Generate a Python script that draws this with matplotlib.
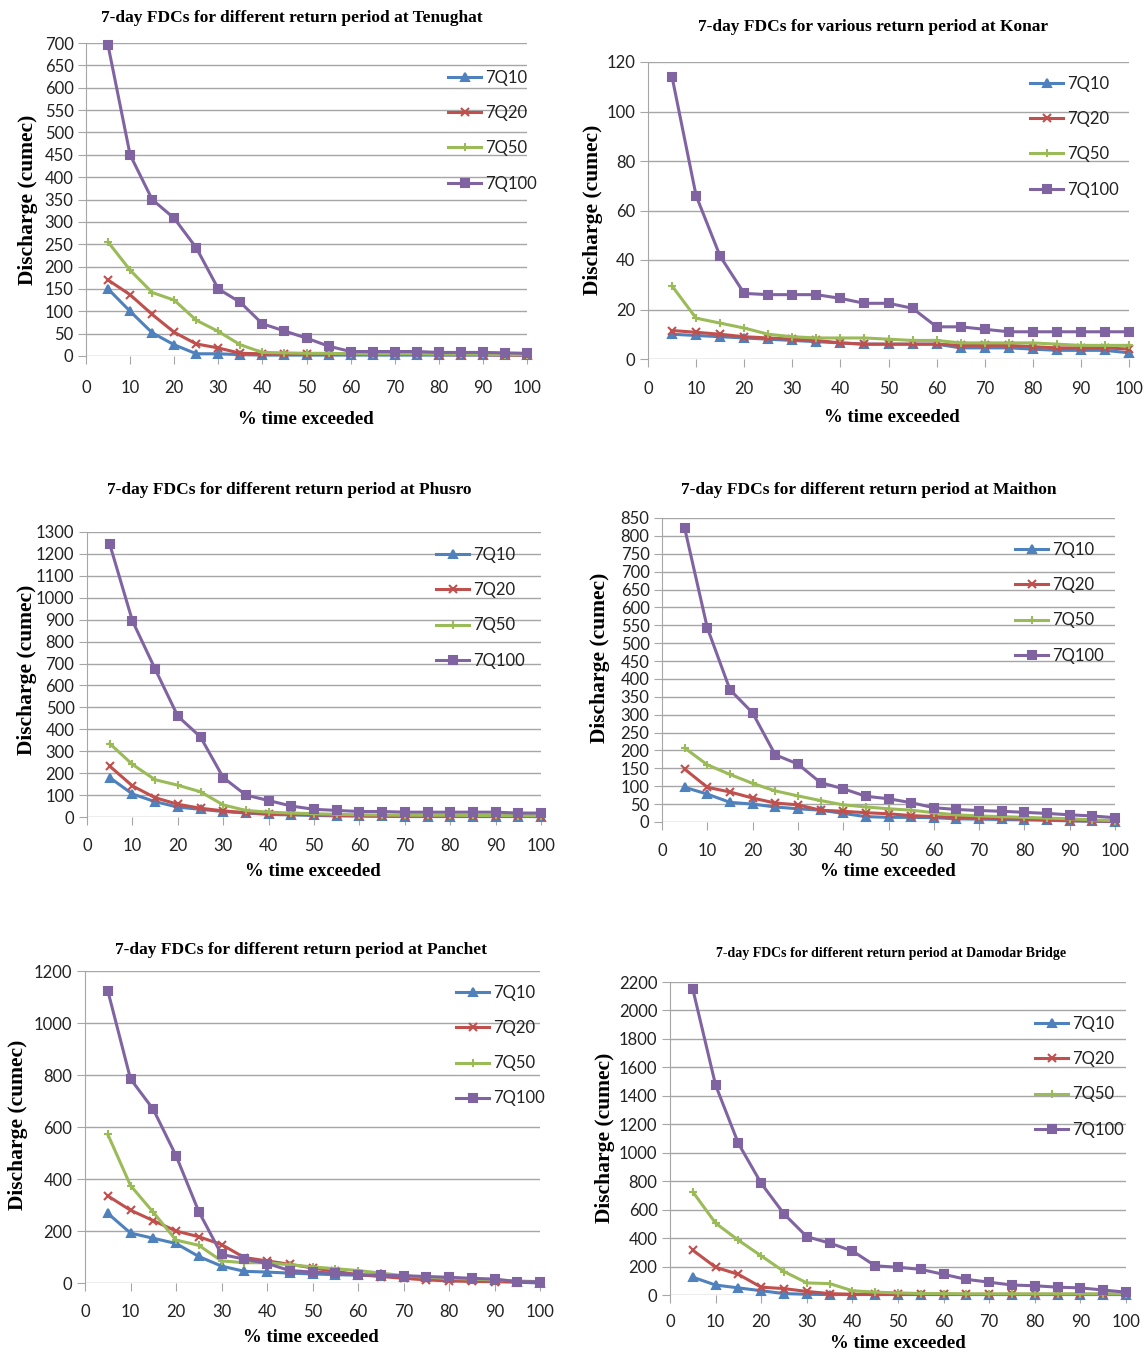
import matplotlib
matplotlib.use("Agg")
import matplotlib.pyplot as plt

W, H = 1146, 1355

# % time exceeded
pct = [5, 10, 15, 20, 25, 30, 35, 40, 45, 50, 55, 60, 65, 70, 75, 80, 85, 90, 95, 100]
series_names = ["7Q10", "7Q20", "7Q50", "7Q100"]

# Tenughat
ten_q10 = [150, 100, 52, 25, 5, 5, 3, 2, 2, 2, 2, 2, 2, 2, 2, 2, 2, 2, 2, 2]
ten_q20 = [170, 137, 93, 53, 27, 18, 6, 5, 4, 4, 4, 4, 4, 4, 4, 3, 3, 3, 2, 2]
ten_q50 = [255, 192, 142, 125, 80, 55, 25, 8, 7, 6, 6, 5, 5, 5, 5, 4, 4, 4, 3, 3]
ten_q100 = [695, 450, 350, 308, 242, 150, 120, 72, 56, 40, 22, 10, 10, 10, 10, 8, 8, 8, 7, 6]

# Konar
kon_q10 = [10, 9.5, 9, 8.5, 8, 7.5, 7, 6.5, 6, 6, 6, 6, 4.5, 4.5, 4.5, 4, 3.5, 3.5, 3.5, 2.5]
kon_q20 = [11.5, 10.8, 10, 9, 8.5, 8, 7.5, 6.5, 6, 6, 6, 6, 5.5, 5.5, 5.5, 5, 4.5, 4.5, 4.5, 4]
kon_q50 = [29.5, 16.5, 14.5, 12.5, 10, 9, 8.5, 8.5, 8.5, 8, 7.5, 7.5, 6.5, 6.5, 6.5, 6.5, 6, 5.5, 5.5, 5.5]
kon_q100 = [114, 66, 41.5, 26.5, 26, 26, 26, 24.5, 22.5, 22.5, 20.5, 13, 13, 12, 11, 11, 11, 11, 11, 11]

# Phusro
phu_q10 = [180, 105, 70, 45, 35, 25, 18, 12, 10, 7, 5, 4, 3, 2, 2, 2, 2, 2, 2, 2]
phu_q20 = [232, 142, 88, 58, 40, 28, 20, 15, 12, 10, 8, 6, 5, 4, 4, 4, 3, 3, 3, 2]
phu_q50 = [335, 240, 170, 145, 115, 55, 30, 22, 18, 15, 12, 10, 9, 8, 8, 8, 7, 7, 6, 6]
phu_q100 = [1245, 895, 675, 460, 365, 180, 100, 75, 50, 35, 30, 25, 25, 22, 22, 22, 22, 22, 18, 18]

# Maithon
mai_q10 = [97, 78, 55, 50, 42, 37, 33, 24, 15, 13, 13, 12, 9, 8, 7, 6, 5, 3, 2, 1]
mai_q20 = [148, 97, 84, 67, 53, 48, 33, 30, 26, 23, 18, 15, 13, 12, 10, 8, 6, 4, 3, 2]
mai_q50 = [207, 160, 133, 108, 87, 73, 60, 48, 42, 37, 33, 26, 20, 17, 15, 13, 11, 9, 6, 4]
mai_q100 = [822, 543, 370, 305, 188, 162, 110, 93, 72, 65, 54, 40, 35, 32, 30, 27, 24, 20, 17, 12]

# Panchet
pan_q10 = [268, 192, 172, 152, 102, 65, 45, 42, 38, 35, 32, 30, 28, 25, 22, 20, 15, 12, 3, 0]
pan_q20 = [335, 280, 240, 200, 178, 148, 98, 85, 72, 58, 45, 32, 25, 18, 12, 8, 6, 5, 3, 2]
pan_q50 = [572, 375, 272, 165, 145, 85, 78, 78, 70, 62, 55, 48, 38, 28, 22, 18, 15, 12, 8, 5]
pan_q100 = [1125, 785, 668, 490, 275, 110, 92, 75, 48, 42, 38, 32, 30, 28, 25, 22, 18, 15, 5, 5]

# Damodar Bridge
dam_q10 = [125, 70, 50, 30, 10, 5, 3, 3, 3, 3, 3, 3, 3, 3, 3, 3, 3, 3, 3, 3]
dam_q20 = [315, 195, 145, 55, 45, 25, 10, 5, 5, 5, 5, 5, 5, 5, 5, 5, 5, 5, 5, 5]
dam_q50 = [725, 505, 385, 275, 165, 85, 80, 30, 20, 15, 10, 10, 8, 8, 8, 8, 8, 8, 8, 8]
dam_q100 = [2150, 1475, 1065, 785, 570, 410, 365, 310, 205, 195, 180, 145, 110, 90, 70, 65, 55, 50, 35, 20]

colors = ["#4F81BD", "#C0504D", "#9BBB59", "#8064A2"]
markers = ["^", "x", "+", "s"]

SANS = ["Liberation Sans Narrow", "Lato", "DejaVu Sans"]
SERIF = ["Liberation Serif", "DejaVu Serif"]

# panel layout in pixels: axes box (x0, y0, x1, y1), title centre, ylabel centre, xlabel centre, legend top-left
panels = [
    dict(title="7-day FDCs for different return period at Tenughat", tsize=12.5,
         data=[ten_q10, ten_q20, ten_q50, ten_q100], ymax=700, ystep=50, xpad=11,
         box=(86, 43, 527, 356), tpos=(292, 18), ypos=(28, 200), xpos=(306, 420), leg=(448, 70)),
    dict(title="7-day FDCs for various return period at Konar", tsize=12.5,
         data=[kon_q10, kon_q20, kon_q50, kon_q100], ymax=120, ystep=20, xpad=10,
         box=(648, 62, 1129, 359), tpos=(873, 27), ypos=(593, 210), xpos=(892, 418), leg=(1030, 76)),
    dict(title="7-day FDCs for different return period at Phusro", tsize=12.5,
         data=[phu_q10, phu_q20, phu_q50, phu_q100], ymax=1300, ystep=100, xpad=9,
         box=(87, 532, 541, 817), tpos=(289, 490), ypos=(27, 670), xpos=(313, 872), leg=(436, 547)),
    dict(title="7-day FDCs for different return period at Maithon", tsize=12.5,
         data=[mai_q10, mai_q20, mai_q50, mai_q100], ymax=850, ystep=50, xpad=9,
         box=(662, 518, 1115, 822), tpos=(869, 490), ypos=(600, 658), xpos=(888, 872), leg=(1015, 542)),
    dict(title="7-day FDCs for different return period at Panchet", tsize=12.5,
         data=[pan_q10, pan_q20, pan_q50, pan_q100], ymax=1200, ystep=200, xpad=9,
         box=(85, 971, 540, 1283), tpos=(301, 950), ypos=(18, 1125), xpos=(311, 1338), leg=(456, 985)),
    dict(title="7-day FDCs for different return period at Damodar Bridge", tsize=10,
         data=[dam_q10, dam_q20, dam_q50, dam_q100], ymax=2200, ystep=200, xpad=8,
         box=(670, 982, 1126, 1295), tpos=(891, 953), ypos=(605, 1138), xpos=(898, 1343), leg=(1035, 1016)),
]

fig = plt.figure(figsize=(W / 100, H / 100), dpi=100)

for p in panels:
    x0, y0, x1, y1 = p["box"]
    ax = fig.add_axes([x0 / W, 1 - y1 / H, (x1 - x0) / W, (y1 - y0) / H])
    for vals, name, c, m in zip(p["data"], series_names, colors, markers):
        ax.plot(pct, vals, color=c, lw=2.2, marker=m, ms=6, mew=1.5, label=name,
                clip_on=False, zorder=3)
    ax.set_xlim(0, 100)
    ax.set_ylim(0, p["ymax"])
    ax.set_xticks(range(0, 101, 10))
    ax.set_yticks(range(0, p["ymax"] + 1, p["ystep"]))
    ax.grid(axis="y", color="#A6A6A6", lw=1)
    ax.set_axisbelow(True)
    for s in ["top", "right", "bottom"]:
        ax.spines[s].set_visible(False)
    ax.spines["left"].set_color("#A6A6A6")
    ax.tick_params(axis="x", direction="out", length=6, color="#A6A6A6", pad=p["xpad"])
    ax.tick_params(axis="y", direction="out", length=6, color="#A6A6A6", pad=3)
    for lab in ax.get_xticklabels() + ax.get_yticklabels():
        lab.set_fontfamily(SANS)
        lab.set_fontsize(12)
        lab.set_color("#222222")

    fig.text(p["tpos"][0] / W, 1 - p["tpos"][1] / H, p["title"], ha="center", va="center",
             fontsize=p["tsize"], fontweight="bold", family=SERIF)
    fig.text(p["ypos"][0] / W, 1 - p["ypos"][1] / H, "Discharge (cumec)", ha="center", va="center",
             rotation=90, fontsize=15.5, fontweight="bold", family=SERIF)
    fig.text(p["xpos"][0] / W, 1 - p["xpos"][1] / H, "% time exceeded", ha="center", va="center",
             fontsize=13.5, fontweight="bold", family=SERIF)

    leg = ax.legend(loc="upper left", bbox_to_anchor=(p["leg"][0] / W, 1 - p["leg"][1] / H),
                    bbox_transform=fig.transFigure, frameon=False, borderpad=0, borderaxespad=0,
                    handlelength=2.0, handletextpad=0.2, labelspacing=1.15,
                    prop={"family": SANS, "size": 12}, markerscale=0.9)
    for t in leg.get_texts():
        t.set_color("#222222")

fig.savefig("out.png", dpi=100, facecolor="white")
